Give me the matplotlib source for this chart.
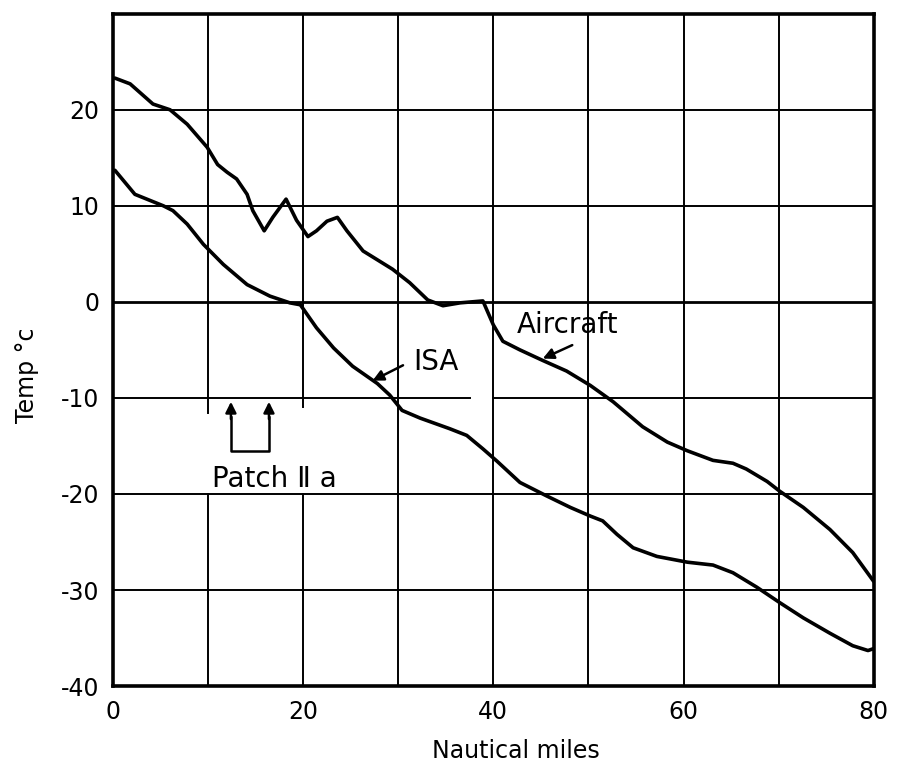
import matplotlib
matplotlib.use('Agg')
import numpy as np
import matplotlib.pyplot as plt

plt.rcParams['font.family'] = ['DejaVu Sans']
plt.rcParams['axes.unicode_minus'] = False

# Temperature traces along the track (nautical miles, deg C)
aircraft_miles = [0.2, 1.8, 4.2, 6.0, 7.8, 9.9, 11.0, 12.0, 13.0, 14.1, 14.7, 15.9, 16.8,
                  18.2, 19.3, 20.5, 21.4, 22.5, 23.6, 24.6, 26.3, 29.4, 31.2, 33.1, 34.7,
                  36.5, 38.9, 40.0, 41.0, 42.8, 45.2, 47.7, 50.2, 52.6, 55.7, 58.3, 60.4,
                  63.1, 65.2, 66.6, 68.8, 70.1, 72.6, 75.4, 77.8, 80.0]
aircraft_temp = [23.3, 22.7, 20.6, 20.0, 18.5, 16.1, 14.3, 13.5, 12.8, 11.2, 9.5, 7.4, 8.8,
                 10.7, 8.5, 6.8, 7.4, 8.4, 8.8, 7.4, 5.3, 3.4, 2.0, 0.2, -0.4,
                 -0.1, 0.1, -2.4, -4.1, -5.0, -6.1, -7.2, -8.7, -10.4, -13.0, -14.6, -15.5,
                 -16.5, -16.8, -17.4, -18.7, -19.7, -21.4, -23.7, -26.1, -29.1]

isa_miles = [0.2, 2.3, 5.3, 6.3, 7.8, 9.5, 11.6, 14.1, 16.5, 18.6, 19.7, 21.4, 23.2,
             25.2, 27.8, 29.1, 30.4, 32.3, 35.4, 37.2, 38.9, 40.4, 42.8, 45.6, 48.1,
             50.2, 51.5, 53.0, 54.7, 57.2, 60.4, 63.1, 65.2, 67.7, 70.1, 72.6, 75.4,
             77.8, 79.4, 80.0]
isa_temp = [13.7, 11.2, 10.0, 9.5, 8.1, 6.0, 3.9, 1.8, 0.6, -0.1, -0.3, -2.7, -4.8,
            -6.7, -8.5, -9.7, -11.3, -12.1, -13.2, -13.9, -15.3, -16.6, -18.8, -20.2, -21.4,
            -22.3, -22.8, -24.2, -25.6, -26.5, -27.1, -27.4, -28.2, -29.7, -31.3, -32.9, -34.5,
            -35.8, -36.3, -36.1]

x_ticks = [0, 20, 40, 60, 80]
y_ticks = [20, 10, 0, -10, -20, -30, -40]

# Patch IIa limits (nautical miles)
patch_start, patch_end = 12.4, 16.4

LW_CURVE = 2.6
LW_GRID = 1.4
FS = 17
FS_NOTE = 20

fig = plt.figure(figsize=(8.97, 7.64), dpi=100)
ax = fig.add_axes([0.126, 0.102, 0.848, 0.880])
ax.set_xlim(0, 80)
ax.set_ylim(-40, 30)

# Grid drawn as segments so the lettering area stays clear
for xv in range(10, 80, 10):
    if xv == 10:
        ax.plot([xv, xv], [30, -11.6], color='k', lw=LW_GRID)
        ax.plot([xv, xv], [-20, -40], color='k', lw=LW_GRID)
    elif xv == 20:
        ax.plot([xv, xv], [30, -10.9], color='k', lw=LW_GRID)
        ax.plot([xv, xv], [-20, -40], color='k', lw=LW_GRID)
    else:
        ax.plot([xv, xv], [30, -40], color='k', lw=LW_GRID)
for yv in range(-30, 30, 10):
    if yv == -10:
        ax.plot([0, 37.5], [yv, yv], color='k', lw=LW_GRID)
        ax.plot([40, 80], [yv, yv], color='k', lw=LW_GRID)
    elif yv == 0:
        ax.plot([0, 80], [yv, yv], color='k', lw=2.0)
    else:
        ax.plot([0, 80], [yv, yv], color='k', lw=LW_GRID)

ax.plot(aircraft_miles, aircraft_temp, color='k', lw=LW_CURVE,
        solid_joinstyle='round', solid_capstyle='round')
ax.plot(isa_miles, isa_temp, color='k', lw=LW_CURVE,
        solid_joinstyle='round', solid_capstyle='round')

arrow = dict(arrowstyle='-|>', color='k', lw=1.8, mutation_scale=16, shrinkA=0, shrinkB=0)
ax.annotate('', xy=(27.3, -8.2), xytext=(30.5, -6.6), arrowprops=arrow)
ax.text(31.6, -6.3, 'ISA', fontsize=FS_NOTE, va='center', ha='left')
ax.annotate('', xy=(45.2, -5.9), xytext=(48.3, -4.5), arrowprops=arrow)
ax.text(42.5, -2.4, 'Aircraft', fontsize=FS_NOTE, va='center', ha='left')

# Bracket marking the patch
ax.plot([patch_start, patch_start, patch_end, patch_end], [-12.0, -15.5, -15.5, -12.0],
        color='k', lw=1.8)
for xp in (patch_start, patch_end):
    ax.annotate('', xy=(xp, -10.4), xytext=(xp, -12.2), arrowprops=arrow)
ax.text(17.0, -18.4, 'Patch \u2161 a', fontsize=FS_NOTE, va='center', ha='center')

ax.set_xticks(x_ticks)
ax.set_yticks(y_ticks)
ax.set_xticklabels([str(v) for v in x_ticks])
ax.set_yticklabels([str(v) for v in y_ticks])
ax.tick_params(length=0, labelsize=FS)
ax.tick_params(axis='y', pad=10)
ax.tick_params(axis='x', pad=10)
for sp in ax.spines.values():
    sp.set_linewidth(2.6)

ax.set_xlabel('Nautical miles', fontsize=FS)
ax.xaxis.set_label_coords(0.53, -0.078)
ax.set_ylabel('Temp \u00b0c', fontsize=FS)
ax.yaxis.set_label_coords(-0.097, 0.463)

fig.savefig('out.png', dpi=100)
